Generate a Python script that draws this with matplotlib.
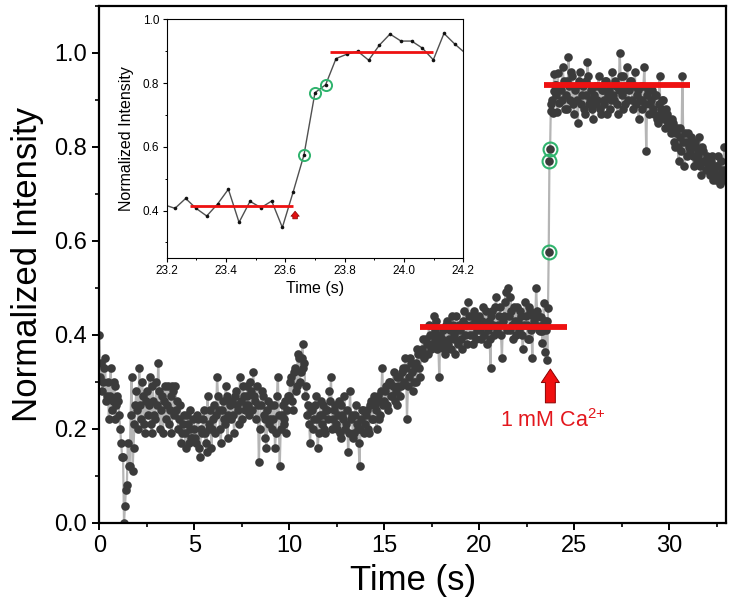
import numpy as np
import matplotlib
matplotlib.use("Agg")
import matplotlib.pyplot as plt
from matplotlib.ticker import MultipleLocator, FormatStrFormatter

plt.rcParams['font.family'] = ['Liberation Sans', 'DejaVu Sans']
plt.rcParams['mathtext.fontset'] = 'custom'
plt.rcParams['mathtext.rm'] = 'Liberation Sans'
plt.rcParams['mathtext.default'] = 'regular'

# ---------------- data ----------------
# main trace before the inset window, samples at 0.0, 0.1, ... 23.1 s
before_y = [
    0.40, 0.34, 0.30, 0.35, 0.27, 0.22, 0.33, 0.26, 0.29, 0.25,
    0.26, 0.20, 0.14, 0.00, 0.07, 0.17, 0.12, 0.31, 0.16, 0.25,
    0.24, 0.33, 0.22, 0.27, 0.19, 0.28, 0.25, 0.21, 0.29, 0.23,
    0.30, 0.34, 0.20, 0.27, 0.26, 0.22, 0.29, 0.24, 0.19, 0.28,
    0.29, 0.26, 0.22, 0.17, 0.21, 0.19, 0.23, 0.17, 0.20, 0.18,
    0.20, 0.17, 0.22, 0.14, 0.19, 0.24, 0.17, 0.27, 0.20, 0.16,
    0.22, 0.19, 0.31, 0.24, 0.17, 0.26, 0.21, 0.27, 0.23, 0.25,
    0.26, 0.19, 0.28, 0.24, 0.31, 0.22, 0.27, 0.25, 0.29, 0.23,
    0.28, 0.32, 0.26, 0.29, 0.13, 0.25, 0.27, 0.22, 0.16, 0.26,
    0.22, 0.20, 0.25, 0.19, 0.31, 0.12, 0.23, 0.21, 0.26, 0.24,
    0.27, 0.31, 0.24, 0.33, 0.29, 0.35, 0.32, 0.38, 0.34, 0.29,
    0.25, 0.17, 0.24, 0.22, 0.27, 0.16, 0.23, 0.21, 0.25, 0.19,
    0.24, 0.28, 0.31, 0.22, 0.25, 0.20, 0.26, 0.18, 0.23, 0.27,
    0.21, 0.15, 0.28, 0.23, 0.19, 0.25, 0.20, 0.12, 0.22, 0.24,
    0.21, 0.24, 0.19, 0.26, 0.22, 0.25, 0.20, 0.27, 0.23, 0.33,
    0.26, 0.29, 0.24, 0.30, 0.27, 0.32, 0.28, 0.25, 0.31, 0.29,
    0.33, 0.35, 0.22, 0.31, 0.34, 0.28, 0.33, 0.30, 0.36, 0.31,
    0.37, 0.35, 0.39, 0.36, 0.40, 0.38, 0.44, 0.41, 0.37, 0.31,
    0.38, 0.41, 0.36, 0.43, 0.39, 0.37, 0.42, 0.40, 0.44, 0.38,
    0.41, 0.37, 0.45, 0.42, 0.47, 0.40, 0.44, 0.38, 0.43, 0.41,
    0.44, 0.39, 0.46, 0.42, 0.38, 0.43, 0.33, 0.45, 0.40, 0.48,
    0.42, 0.46, 0.35, 0.44, 0.49, 0.50, 0.41, 0.45, 0.39, 0.43,
    0.46, 0.41, 0.44, 0.37, 0.47, 0.42, 0.39, 0.45, 0.35, 0.43,
    0.50, 0.44,
]
# intermediate samples at 0.05, 0.15, ... 23.15 s
before_mid_y = [
    0.31, 0.28, 0.33, 0.26, 0.30, 0.27, 0.24, 0.30, 0.22, 0.27,
    0.23, 0.17, 0.14, 0.035, 0.08, 0.12, 0.23, 0.11, 0.21, 0.28,
    0.20, 0.25, 0.30, 0.21, 0.26, 0.23, 0.31, 0.19, 0.26, 0.22,
    0.25, 0.28, 0.24, 0.19, 0.29, 0.25, 0.21, 0.27, 0.29, 0.23,
    0.24, 0.20, 0.25, 0.19, 0.23, 0.16, 0.21, 0.24, 0.18, 0.22,
    0.18, 0.23, 0.16, 0.20, 0.22, 0.19, 0.15, 0.21, 0.24, 0.20,
    0.25, 0.23, 0.27, 0.20, 0.24, 0.22, 0.29, 0.18, 0.26, 0.22,
    0.23, 0.27, 0.25, 0.21, 0.26, 0.29, 0.24, 0.27, 0.25, 0.30,
    0.24, 0.27, 0.22, 0.25, 0.20, 0.28, 0.23, 0.18, 0.24, 0.21,
    0.25, 0.22, 0.16, 0.27, 0.23, 0.20, 0.25, 0.22, 0.19, 0.27,
    0.30, 0.26, 0.32, 0.28, 0.36, 0.30, 0.35, 0.33, 0.27, 0.23,
    0.21, 0.24, 0.20, 0.25, 0.22, 0.19, 0.26, 0.23, 0.20, 0.24,
    0.22, 0.26, 0.20, 0.24, 0.21, 0.23, 0.19, 0.25, 0.22, 0.20,
    0.24, 0.19, 0.22, 0.18, 0.23, 0.21, 0.17, 0.20, 0.24, 0.19,
    0.23, 0.20, 0.25, 0.22, 0.27, 0.24, 0.26, 0.22, 0.28, 0.25,
    0.28, 0.25, 0.30, 0.27, 0.29, 0.26, 0.31, 0.29, 0.27, 0.32,
    0.30, 0.33, 0.29, 0.35, 0.32, 0.30, 0.34, 0.37, 0.33, 0.36,
    0.39, 0.36, 0.38, 0.42, 0.37, 0.40, 0.39, 0.43, 0.38, 0.40,
    0.39, 0.37, 0.42, 0.38, 0.41, 0.44, 0.39, 0.36, 0.41, 0.42,
    0.39, 0.43, 0.40, 0.38, 0.44, 0.42, 0.40, 0.45, 0.39, 0.42,
    0.41, 0.43, 0.40, 0.45, 0.41, 0.39, 0.44, 0.42, 0.46, 0.41,
    0.44, 0.40, 0.43, 0.47, 0.41, 0.44, 0.48, 0.42, 0.46, 0.40,
    0.43, 0.45, 0.40, 0.42, 0.44, 0.39, 0.46, 0.41, 0.44, 0.42,
    0.45, 0.41,
]
before_t = np.arange(len(before_y)) / 10.0
before_mid_t = 0.05 + np.arange(len(before_mid_y)) / 10.0

# full-resolution window around the Ca2+ addition (shown in the inset)
inset_t = [23.192, 23.228, 23.264, 23.299, 23.335, 23.372, 23.408, 23.444,
           23.481, 23.518, 23.554, 23.590, 23.626, 23.663, 23.700, 23.736,
           23.771, 23.808, 23.844, 23.881, 23.917, 23.953, 23.990, 24.026,
           24.062, 24.099, 24.135, 24.171, 24.208]
inset_y = [0.418, 0.407, 0.438, 0.407, 0.383, 0.421, 0.467, 0.363,
           0.429, 0.409, 0.430, 0.347, 0.457, 0.575, 0.770, 0.795,
           0.877, 0.891, 0.900, 0.872, 0.919, 0.954, 0.932, 0.932,
           0.910, 0.873, 0.956, 0.923, 0.893]
highlight_idx = [13, 14, 15]

# main trace after the inset window, samples at 24.3, 24.4, ... 33.0 s
after_y = [
    0.92, 0.97, 0.88, 0.94, 0.99, 0.90, 0.95,
    0.87, 0.93, 0.85, 0.96, 0.91, 0.88, 0.94, 0.98, 0.89, 0.92,
    0.86, 0.93, 0.90, 0.95, 0.87, 0.92, 0.89, 0.94, 0.91, 0.88,
    0.96, 0.90, 0.93, 0.87, 1.00, 0.91, 0.95, 0.89, 0.97, 0.92,
    0.94, 0.88, 0.96, 0.91, 0.86, 0.93, 0.90, 0.97, 0.79, 0.92,
    0.89, 0.92, 0.87, 0.91, 0.85, 0.95, 0.88, 0.90, 0.84, 0.87,
    0.86, 0.83, 0.85, 0.80, 0.84, 0.77, 0.82, 0.95, 0.76, 0.81,
    0.83, 0.79, 0.81, 0.76, 0.80, 0.78, 0.82, 0.74, 0.79, 0.77,
    0.78, 0.75, 0.77, 0.73, 0.76, 0.74, 0.78, 0.72, 0.75, 0.80, 0.74,
]
# intermediate samples at 24.35, 24.45, ... 32.95 s
after_mid_y = [
    0.90, 0.94, 0.91, 0.88, 0.93, 0.96, 0.89,
    0.92, 0.90, 0.94, 0.89, 0.93, 0.87, 0.91, 0.95, 0.90, 0.88,
    0.91, 0.89, 0.93, 0.88, 0.92, 0.90, 0.94, 0.87, 0.92, 0.90,
    0.91, 0.94, 0.89, 0.92, 0.95, 0.88, 0.92, 0.93, 0.90, 0.94,
    0.90, 0.93, 0.89, 0.92, 0.90, 0.88, 0.93, 0.89, 0.91, 0.87,
    0.90, 0.88, 0.91, 0.86, 0.89, 0.87, 0.90, 0.86, 0.88, 0.85,
    0.84, 0.86, 0.81, 0.83, 0.80, 0.84, 0.79, 0.81, 0.83, 0.78,
    0.80, 0.82, 0.78, 0.81, 0.77, 0.79, 0.76, 0.80, 0.77, 0.75,
    0.76, 0.74, 0.78, 0.75, 0.73, 0.76, 0.74, 0.77, 0.73, 0.75,
]
after_t = 24.3 + np.arange(len(after_y)) / 10.0
after_mid_t = 24.35 + np.arange(len(after_mid_y)) / 10.0

# fitted levels : (level, start, end)
main_levels = [(0.417, 16.9, 24.6), (0.932, 23.4, 31.1)]
inset_levels = [(0.413, 23.28, 23.626), (0.898, 23.75, 24.097)]

arrow_x, arrow_y0, arrow_y1 = 23.75, 0.255, 0.327
label_text = "1 mM Ca$^{2{+}}$"

# ---------------- figure ----------------
fig = plt.figure(figsize=(7.33, 6.08), dpi=100)
ax = fig.add_axes([0.1355, 0.1403, 0.8550, 0.8503])

main_t = np.concatenate([before_t, before_mid_t, inset_t, after_t, after_mid_t])
main_y = np.concatenate([before_y, before_mid_y, inset_y, after_y, after_mid_y])
order = np.argsort(main_t, kind='stable')
main_t = main_t[order]
main_y = main_y[order]
ins_t = np.array(inset_t)
ins_y = np.array(inset_y)

ax.plot(main_t, main_y, '-', color='#b5b5b5', lw=1.6, zorder=1)
ax.plot(main_t, main_y, 'o', color='#3b3b3b', ms=6.2, mew=0, zorder=2)
ax.plot(ins_t[highlight_idx], ins_y[highlight_idx], 'o', mfc='none',
        mec='#2fb36d', ms=10, mew=1.5, zorder=3)

for lvl, a, b in main_levels:
    ax.hlines(lvl, a, b, color='#ee1111', lw=4.2, zorder=4)

ax.annotate('', xy=(arrow_x, arrow_y1), xytext=(arrow_x, arrow_y0),
            arrowprops=dict(arrowstyle='simple,head_length=0.75,head_width=1.0,tail_width=0.55',
                            fc='#f01010', ec='#8a0000', lw=0.7, mutation_scale=13,
                            shrinkA=0, shrinkB=0), zorder=5)
ax.text(23.9, 0.218, label_text, color='#e3171d', fontsize=15.5,
        ha='center', va='center')

ax.set_xlim(0, 33)
ax.set_ylim(0, 1.1)
ax.xaxis.set_major_locator(MultipleLocator(5))
ax.xaxis.set_minor_locator(MultipleLocator(2.5))
ax.yaxis.set_major_locator(MultipleLocator(0.2))
ax.yaxis.set_minor_locator(MultipleLocator(0.1))
ax.yaxis.set_major_formatter(FormatStrFormatter('%.1f'))
ax.tick_params(which='major', direction='out', length=5, width=1.4,
               labelsize=17, pad=4)
ax.tick_params(which='minor', direction='out', length=2.6, width=1.2)
for s in ax.spines.values():
    s.set_linewidth(1.6)
ax.set_xlabel('Time (s)', fontsize=25, labelpad=5)
ax.set_ylabel('Normalized Intensity', fontsize=25, labelpad=7)

# ---------------- inset ----------------
axi = fig.add_axes([0.2274, 0.5761, 0.4046, 0.3920])
axi.set_facecolor('white')
axi.plot(ins_t, ins_y, '-', color='#505050', lw=1.0, zorder=1)
axi.plot(ins_t, ins_y, 'o', color='#111111', ms=2.6, mew=0, zorder=2)
axi.plot(ins_t[highlight_idx], ins_y[highlight_idx], 'o', mfc='none',
         mec='#2fb36d', ms=8, mew=1.4, zorder=3)
for lvl, a, b in inset_levels:
    axi.hlines(lvl, a, b, color='#ee1111', lw=2, zorder=4)
axi.annotate('', xy=(23.633, 0.398), xytext=(23.633, 0.374),
             arrowprops=dict(arrowstyle='simple,head_length=0.6,head_width=1.0,tail_width=0.55',
                             fc='#e01010', ec='#8a0000', lw=0.5, mutation_scale=6,
                             shrinkA=0, shrinkB=0), zorder=5)
axi.set_xlim(23.2, 24.2)
axi.set_ylim(0.252, 1.0)
axi.xaxis.set_major_locator(MultipleLocator(0.2))
axi.xaxis.set_minor_locator(MultipleLocator(0.1))
axi.yaxis.set_major_locator(MultipleLocator(0.2))
axi.yaxis.set_minor_locator(MultipleLocator(0.1))
axi.xaxis.set_major_formatter(FormatStrFormatter('%.1f'))
axi.yaxis.set_major_formatter(FormatStrFormatter('%.1f'))
axi.tick_params(which='major', direction='out', length=2.8, width=0.8,
                labelsize=8.5, pad=2.5)
axi.tick_params(which='minor', direction='out', length=1.6, width=0.7)
for s in axi.spines.values():
    s.set_linewidth(0.8)
axi.set_xlabel('Time (s)', fontsize=11.5, labelpad=3)
axi.set_ylabel('Normalized Intensity', fontsize=11.5, labelpad=6)

fig.savefig('out.png', dpi=100)
